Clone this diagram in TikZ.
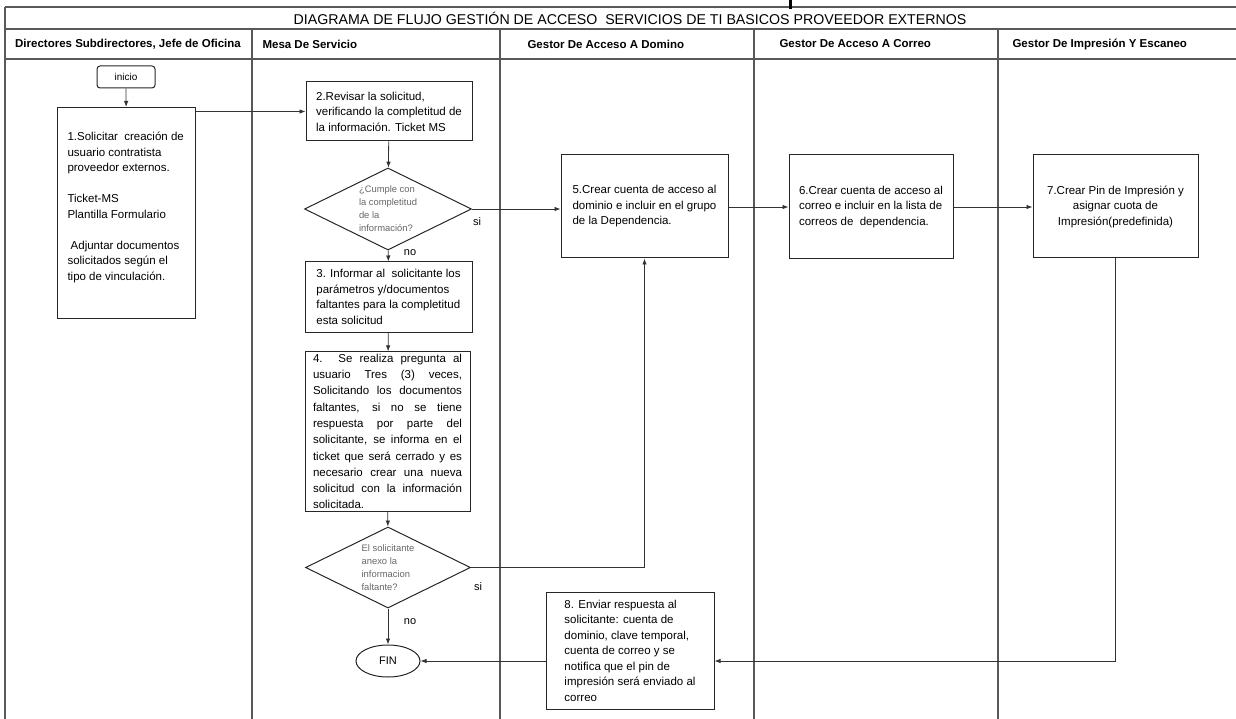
\documentclass[tikz,border=0pt]{standalone}
\usepackage{fontspec}
\setmainfont{Liberation Sans}
\usetikzlibrary{arrows.meta,shapes.geometric}

\begin{document}
\begin{tikzpicture}[x=1pt,y=-1pt,
  lane/.style={draw=black!65,line width=1.3pt},
  box/.style={draw=black!85,line width=1pt,inner xsep=8pt,inner ysep=2pt,
    font=\fontsize{11.5}{15.5}\selectfont,align=left},
  dec/.style={draw=black!85,line width=1pt,diamond,aspect=2,inner sep=0pt,
    font=\fontsize{9.4}{13}\selectfont,text=black!60,align=left},
  flow/.style={draw=black!80,line width=0.8pt,-{Latex[length=6pt,width=4.5pt]}},
  lbl/.style={font=\fontsize{11}{13}\selectfont},
  head/.style={font=\bfseries\fontsize{11.5}{13}\selectfont}]
\useasboundingbox (0,0) rectangle (1236,719);
% swimlanes
\draw[lane] (5,7) -- (1236,7);
\draw[lane] (5,29) -- (1236,29);
\draw[lane] (5,59) -- (1236,59);
\draw[lane] (5,7) -- (5,719);
\foreach \x in {252,500,754,998} \draw[lane] (\x,29) -- (\x,719);
\fill (789,0) rectangle (792,9);
\node[font=\fontsize{14.2}{16}\selectfont] (title) at (630,18) {DIAGRAMA DE FLUJO GESTIÓN DE ACCESO \ SERVICIOS DE TI BASICOS PROVEEDOR EXTERNOS};
\node[head] (h1) at (128,44) {Directores Subdirectores, Jefe de Oficina};
\node[head,anchor=west] (h2) at (259,44) {Mesa De Servicio};
\node[head,anchor=west] (h3) at (524,44) {Gestor De Acceso A Domino};
\node[head,anchor=west] (h4) at (776,44) {Gestor De Acceso A Correo};
\node[head,anchor=west] (h5) at (1009,44) {Gestor De Impresión Y Escaneo};
% steps
\node[draw=black!85,line width=1pt,rounded corners=3pt,minimum width=58pt,minimum height=22pt,font=\fontsize{10}{12}\selectfont] (inicio) at (126,77) {inicio};
\node[box,anchor=north west,inner xsep=10pt,minimum width=138pt,minimum height=211pt] (s1) at (57,107)
  {\begin{minipage}[t][205pt][t]{118pt}\raggedright\vspace*{22pt}%
  1.Solicitar \ creación de\\usuario contratista\\proveedor externos.\\[15.5pt]
  Ticket-MS\\Plantilla Formulario\\[15.5pt]
  \ Adjuntar documentos\\solicitados según el\\tipo de vinculación.\end{minipage}};
\node[box,minimum width=166pt,minimum height=59pt] (s2) at (389,111.5)
  {2.Revisar la solicitud,\\verificando la completitud de\\la información. Ticket MS};
\node[dec,minimum width=167pt,minimum height=82pt] (d1) at (388,209)
  {¿Cumple con\\la completitud\\de la\\información?};
\node[box,minimum width=167pt,minimum height=70pt] (s3) at (388.5,297)
  {3. Informar al \ solicitante los\\parámetros y/documentos\\faltantes para la completitud\\esta solicitud};
\node[box,text width=149pt,minimum height=157pt,align=justify,
  font=\fontsize{11.5}{16.3}\selectfont] (s4) at (387.5,431.5)
  {4. Se realiza pregunta al\linebreak usuario Tres (3) veces,\linebreak
  Solicitando los documentos\linebreak faltantes, si no se tiene\linebreak
  respuesta por parte del\linebreak solicitante, se informa en el\linebreak
  ticket que será cerrado y es\linebreak necesario crear una nueva\linebreak
  solicitud con la información\linebreak solicitada.};
\node[dec,minimum width=165pt,minimum height=81pt] (d2) at (388,567.5)
  {El solicitante\\anexo la\\informacion\\faltante?};
\node[draw=black!85,line width=1pt,ellipse,minimum width=64pt,minimum height=32pt,font=\fontsize{11}{13}\selectfont] (fin) at (388,661) {FIN};
\node[box,minimum width=167pt,minimum height=103pt] (s5) at (644.5,206.5)
  {5.Crear cuenta de acceso al\\dominio e incluir en el grupo\\de la Dependencia.};
\node[box,minimum width=164pt,minimum height=104pt] (s6) at (871,207)
  {6.Crear cuenta de acceso al\\correo e incluir en la lista de\\correos de \ dependencia.};
\node[box,minimum width=165pt,minimum height=103pt,align=center] (s7) at (1115.5,206.5)
  {7.Crear Pin de Impresión y\\asignar cuota de\\Impresión(predefinida)};
\node[box,minimum width=168pt,minimum height=117pt] (s8) at (630,650.5)
  {8. Enviar respuesta al\\solicitante: cuenta de\\dominio, clave temporal,\\cuenta de correo y se\\notifica que el pin de\\impresión será enviado al\\correo};
% connectors
\draw[flow] (inicio) -- (s1);
\draw[flow] (s1.east |- s2.west) -- (s2.west);
\draw[flow] (s2) -- (d1);
\draw[flow] (d1.east) -- (d1.east -| s5.west);
\draw[flow] (d1) -- (s3);
\draw[flow] (s3) -- (s4);
\draw[flow] (s4) -- (d2);
\draw[flow] (d2.east) -| (s5.south);
\draw[flow] (d2) -- (fin);
\draw[flow] (s5.east |- s6.west) -- (s6.west);
\draw[flow] (s6.east) -- (s6.east -| s7.west);
\draw[flow] (s7.south) |- (s8.east |- fin.east);
\draw[flow] (s8.west |- fin.east) -- (fin.east);
\node[lbl] (si1) at (477,222) {si};
\node[lbl] (no1) at (410,253) {no};
\node[lbl] (si2) at (478,587) {si};
\node[lbl] (no2) at (410,622) {no};
\end{tikzpicture}
\end{document}
